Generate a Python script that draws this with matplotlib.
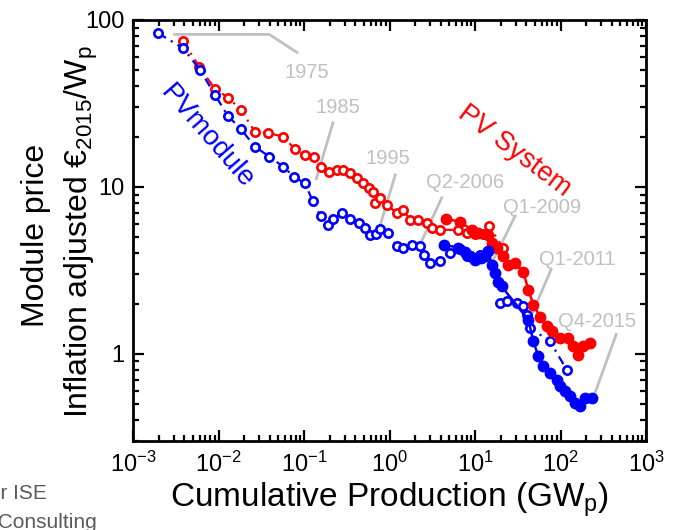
import matplotlib
matplotlib.use("Agg")
import matplotlib.pyplot as plt
from matplotlib.ticker import LogLocator, FixedLocator, NullFormatter

plt.rcParams['font.family'] = ['Liberation Sans', 'DejaVu Sans']
plt.rcParams['mathtext.fontset'] = 'custom'
plt.rcParams['mathtext.rm'] = 'Liberation Sans'
plt.rcParams['mathtext.it'] = 'Liberation Sans'
plt.rcParams['mathtext.default'] = 'regular'

# ---------------- data (cumulative production GWp, price EUR2015/Wp) -------------
module_hist_x = [0.00198, 0.00387, 0.00608, 0.0091, 0.0128, 0.0183, 0.0267, 0.0393, 0.0573,
                 0.0764, 0.103, 0.126, 0.157, 0.192, 0.220, 0.276, 0.345, 0.444, 0.516,
                 0.592, 0.695, 0.774, 0.968, 1.21, 1.45, 1.82, 2.27, 2.5, 2.98, 3.90,
                 5.10, 6.68, 8.0, 9.55, 11.4, 13.8]
module_hist_y = [83.2, 67.7, 50.2, 35.6, 26.7, 22.2, 17.4, 15.2, 13.2,
                 11.5, 10.5, 8.25, 6.66, 5.92, 6.41, 6.96, 6.41, 6.06, 5.66,
                 5.16, 5.23, 5.58, 5.28, 4.43, 4.30, 4.49, 4.43, 3.92, 3.49, 3.62,
                 4.01, 4.24, 3.83, 3.74, 3.92, 4.08]

module_recent_x = [4.34, 6.38, 7.64, 8.75, 10.0, 11.7, 13.1, 14.3, 15.7, 17.1, 18.6, 20.5,
                   42.0, 48.1, 55.0, 62.9, 75.3, 90.3, 98.7, 113, 129, 148, 169, 194, 232]
module_recent_y = [4.49, 4.33, 4.08, 3.83, 3.66, 3.76, 3.83, 4.10, 3.41, 3.04, 2.70, 2.53,
                   1.60, 1.19, 0.964, 0.839, 0.766, 0.699, 0.637, 0.595, 0.555, 0.507, 0.483,
                   0.543, 0.543]

module_alt_x = [19.6, 23.5, 30.7, 36.7, 40.6, 43.5, 75.3, 118]
module_alt_y = [2.01, 2.06, 2.01, 1.92, 1.71, 1.43, 1.19, 0.802]

system_hist_x = [0.00381, 0.00595, 0.0091, 0.0130, 0.0183, 0.0267, 0.0382, 0.0573, 0.0785,
                 0.103, 0.131, 0.157, 0.198, 0.241, 0.284, 0.345, 0.413, 0.494, 0.581,
                 0.637, 0.676, 0.774, 0.942, 1.21, 1.45, 1.74, 2.17, 2.72, 3.12, 3.90,
                 6.32, 8.0, 10.0, 12.4, 14.7, 21.4]
system_hist_y = [75.2, 52.5, 38.5, 34.3, 28.9, 21.4, 21.0, 20.0, 16.8,
                 15.5, 15.2, 13.2, 12.2, 12.6, 12.6, 12.1, 11.3, 10.5, 9.82,
                 9.37, 7.98, 8.56, 7.80, 6.96, 7.28, 6.35, 6.35, 6.06, 5.66, 5.53,
                 5.53, 5.30, 5.23, 5.23, 5.79, 4.30]

system_recent_x = [4.58, 6.68, 9.15, 10.9, 14.3, 15.7, 17.9, 21.4, 24.5, 29.4, 36.7, 42.0,
                   48.1, 57.5, 69.0, 78.9, 98.7, 123, 141, 161, 185, 221]
system_recent_y = [6.41, 6.20, 5.53, 5.28, 5.16, 4.60, 4.30, 3.83, 3.41, 3.49, 3.11, 2.42,
                   1.97, 1.67, 1.46, 1.36, 1.24, 1.24, 1.11, 0.986, 1.11, 1.16]

# annotations: label, label position, leader line
ann_labels = ["1975", "1985", "1995", "Q2-2006", "Q1-2009", "Q1-2011", "Q4-2015"]
ann_text_x = [0.108, 0.25, 0.959, 7.64, 60.8, 156, 267]
ann_text_y = [48.2, 29.7, 14.7, 10.6, 7.48, 3.66, 1.56]
ann_line_x = [[0.00296, 0.0393, 0.0857], [0.220, 0.138], [1.18, 0.740], [4.15, 2.27],
              [29.9, 15.7], [78.9, 38.5], [454, 253]]
ann_line_y = [[82.0, 82.0, 63.2], [24.6, 11.0], [12.0, 5.40], [8.75, 4.49],
              [6.79, 3.49], [3.26, 1.39], [1.33, 0.581]]

xticks = [1e-3, 1e-2, 1e-1, 1e0, 1e1, 1e2, 1e3]
xtick_labels = [r"$10^{-3}$", r"$10^{-2}$", r"$10^{-1}$", r"$10^{0}$", r"$10^{1}$", r"$10^{2}$", r"$10^{3}$"]
yticks = [1, 10, 100]
ytick_labels = ["1", "10", "100"]

BLUE = "#0000ff"
RED = "#ff0000"
GRAY = "#c0c0c0"

fig = plt.figure(figsize=(6.75, 5.3), dpi=100)
ax = fig.add_axes([133/675, 1-441/530, (646-133)/675, (441-20)/530])
ax.set_xscale('log')
ax.set_yscale('log')
ax.set_xlim(1e-3, 1e3)
ax.set_ylim(0.3, 100)

# annotations (behind data)
for lab, tx, ty, lx, ly in zip(ann_labels, ann_text_x, ann_text_y, ann_line_x, ann_line_y):
    ax.plot(lx, ly, color=GRAY, lw=2, zorder=1, solid_capstyle='butt')
    ax.text(tx, ty, lab, color=GRAY, fontsize=14.5, ha='center', va='center', zorder=1)

open_kw = dict(marker='o', ms=6, mfc='white', mew=1.9, lw=1.6, linestyle=(0, (4, 2.5, 1, 2.5)))
ax.plot(system_hist_x, system_hist_y, color=RED, mec=RED, zorder=3, **open_kw)
ax.plot(system_recent_x, system_recent_y, color=RED, marker='o', ms=7.5, lw=1.8, zorder=4)
ax.plot(module_hist_x, module_hist_y, color=BLUE, mec=BLUE, zorder=3, **open_kw)
ax.plot(module_alt_x, module_alt_y, color=BLUE, mec=BLUE, zorder=3, **open_kw)
ax.plot(module_recent_x, module_recent_y, color=BLUE, marker='o', ms=7.5, lw=1.8, zorder=4)

ax.text(0.0074, 19.9, "PVmodule", color=BLUE, fontsize=20, rotation=-49,
        ha='center', va='center', rotation_mode='anchor')
ax.text(28.5, 16.5, "PV System", color=RED, fontsize=19.5, rotation=-37,
        ha='center', va='center', rotation_mode='anchor')

# axes styling
for s in ax.spines.values():
    s.set_linewidth(2)
ax.xaxis.set_major_locator(FixedLocator(xticks))
ax.set_xticklabels(xtick_labels)
ax.yaxis.set_major_locator(FixedLocator(yticks))
ax.set_yticklabels(ytick_labels)
ax.xaxis.set_minor_locator(LogLocator(base=10, subs=range(2, 10), numticks=20))
ax.yaxis.set_minor_locator(LogLocator(base=10, subs=range(2, 10), numticks=20))
ax.xaxis.set_minor_formatter(NullFormatter())
ax.yaxis.set_minor_formatter(NullFormatter())
ax.tick_params(which='both', direction='in', top=True, right=True, width=1.6, labelsize=17)
ax.tick_params(which='major', length=8)
ax.tick_params(which='minor', length=4.5)
ax.tick_params(axis='x', pad=8)
ax.tick_params(axis='y', pad=6)

ax.set_xlabel(r"Cumulative Production (GW$_\mathrm{p}$)", fontsize=24, labelpad=2)
fig.text(36/675, 1-235/530, "Module price", rotation=90, fontsize=23, ha='center', va='center')
fig.text(81/675, 1-232/530, r"Inflation adjusted €$_{2015}$/W$_\mathrm{p}$", rotation=90,
         fontsize=23, ha='center', va='center')

fig.text(47/675, 1-499/530, "Fraunhofer ISE", fontsize=15, color="#5a5a5a", ha='right', va='baseline')
fig.text(97/675, 1-528/530, "PSE Consulting", fontsize=15, color="#5a5a5a", ha='right', va='baseline')

fig.savefig("out.png", dpi=100)
